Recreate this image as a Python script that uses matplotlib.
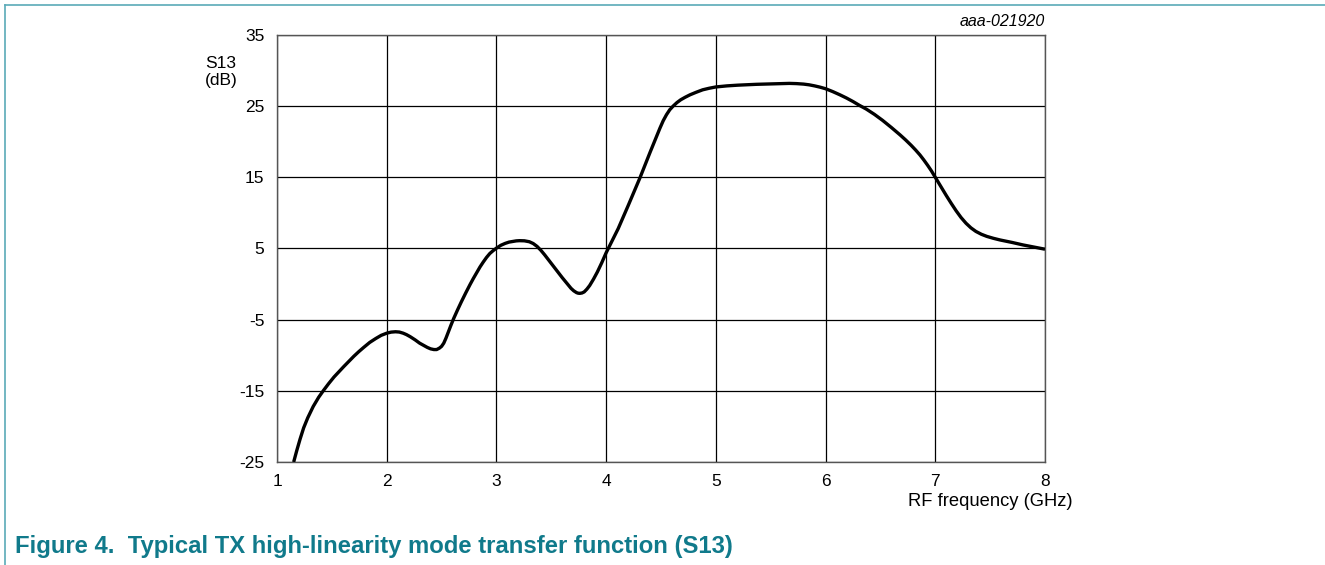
import numpy as np
import matplotlib
matplotlib.use('Agg')
import matplotlib.pyplot as plt
from matplotlib.lines import Line2D

plt.rcParams['font.family'] = ['Liberation Sans', 'DejaVu Sans']

# S13 curve (GHz, dB)
freq = [1.152, 1.18, 1.21, 1.243, 1.28, 1.33, 1.38, 1.426, 1.47,
        1.52, 1.565, 1.608, 1.655, 1.70, 1.745, 1.79, 1.845, 1.90, 1.95,
        2.0, 2.04, 2.08, 2.115, 2.15, 2.18, 2.215, 2.26, 2.30, 2.34,
        2.37, 2.40, 2.43, 2.455, 2.48, 2.50, 2.52, 2.54, 2.56, 2.585,
        2.61, 2.645, 2.68, 2.72, 2.76, 2.79, 2.82, 2.85, 2.88, 2.91,
        2.94, 2.97, 3.0, 3.04, 3.08, 3.115, 3.15, 3.18, 3.21, 3.255,
        3.30, 3.335, 3.37, 3.405, 3.44, 3.48, 3.52, 3.56, 3.60, 3.64,
        3.68, 3.705, 3.73, 3.745, 3.76, 3.78, 3.80, 3.825, 3.85, 3.885,
        3.92, 3.96, 4.0, 4.055, 4.11, 4.155, 4.20, 4.255, 4.31, 4.355,
        4.40, 4.445, 4.49, 4.52, 4.55, 4.58, 4.61, 4.645, 4.68, 4.72,
        4.765, 4.82, 4.88, 4.94, 5.0, 5.1, 5.2, 5.285, 5.37, 5.46,
        5.55, 5.61, 5.67, 5.735, 5.8, 5.85, 5.9, 5.95, 6.0, 6.065,
        6.13, 6.19, 6.25, 6.31, 6.37, 6.445, 6.52, 6.60, 6.68, 6.73,
        6.78, 6.82, 6.86, 6.895, 6.93, 6.965, 7.0, 7.05, 7.1, 7.145,
        7.19, 7.235, 7.28, 7.325, 7.37, 7.42, 7.47, 7.53, 7.59, 7.7,
        7.8, 7.9, 8.0]
s13 = [-25.0, -23.4, -21.8, -20.2, -18.8, -17.2, -15.9, -14.9, -14.0,
       -13.05, -12.3, -11.6, -10.85, -10.15, -9.5, -8.9, -8.2, -7.65, -7.2,
       -6.9, -6.75, -6.7, -6.74, -6.9, -7.1, -7.4, -7.85, -8.3, -8.65,
       -8.9, -9.1, -9.2, -9.2, -9.0, -8.75, -8.3, -7.6, -6.8, -5.8,
       -4.85, -3.65, -2.5, -1.25, -0.05, 0.8, 1.6, 2.4, 3.1, 3.75,
       4.3, 4.7, 5.05, 5.45, 5.72, 5.9, 6.0, 6.07, 6.1, 6.08,
       5.95, 5.7, 5.3, 4.75, 4.1, 3.3, 2.5, 1.7, 0.9, 0.15,
       -0.6, -0.95, -1.2, -1.28, -1.3, -1.25, -1.1, -0.7, -0.2, 0.7,
       1.7, 3.0, 4.4, 6.1, 7.8, 9.4, 11.0, 13.0, 15.0, 16.75,
       18.5, 20.2, 21.9, 22.95, 23.8, 24.5, 25.0, 25.5, 25.9, 26.25,
       26.6, 26.95, 27.3, 27.52, 27.7, 27.85, 27.95, 28.01, 28.07, 28.11,
       28.15, 28.18, 28.2, 28.17, 28.1, 28.0, 27.85, 27.67, 27.45, 27.05,
       26.6, 26.15, 25.65, 25.1, 24.6, 23.85, 23.0, 22.0, 20.95, 20.25,
       19.5, 18.85, 18.15, 17.45, 16.7, 15.9, 15.0, 13.7, 12.45, 11.35,
       10.3, 9.35, 8.55, 7.9, 7.4, 7.0, 6.7, 6.43, 6.2, 5.85,
       5.5, 5.2, 4.9]

xticks = [1, 2, 3, 4, 5, 6, 7, 8]
yticks = [-25, -15, -5, 5, 15, 25, 35]

teal = '#107a8b'
frame_col = '#5aaab8'

fig = plt.figure(figsize=(13.25, 5.65), dpi=100)
ax = fig.add_axes([277/1325, 1-462/565, 768/1325, 427/565])

ax.plot(freq, s13, '-', color='black', lw=2.4, solid_joinstyle='round',
        solid_capstyle='butt', zorder=3)

ax.set_xlim(1, 8)
ax.set_ylim(-25, 35)
ax.set_xticks(xticks)
ax.set_yticks(yticks)
ax.set_xticklabels([str(t) for t in xticks])
ax.set_yticklabels([str(t) for t in yticks])
ax.tick_params(length=0, labelsize=12.5, pad=9, colors='black')
ax.grid(True, color='black', lw=0.9)
for sp in ax.spines.values():
    sp.set_color('#555555')
    sp.set_linewidth(1.0)

fig.text(221/1325, 1-72/565, 'S13\n(dB)', ha='center', va='center',
         fontsize=12.5, linespacing=1.2)
fig.text(1073/1325, 1-502/565, 'RF frequency (GHz)', ha='right',
         va='center', fontsize=13.2)
fig.text(1045/1325, 1-22/565, 'aaa-021920', ha='right', va='center',
         fontsize=11.5, style='italic')
fig.text(15/1325, 1-547/565,
         'Figure 4.  Typical TX high-linearity mode transfer function (S13)',
         ha='left', va='center', fontsize=17.2, fontweight='bold', color=teal)

# frame lines on top and left
fig.add_artist(Line2D([5/1325, 1], [1-4.5/565, 1-4.5/565], color=frame_col,
                      lw=1.2, transform=fig.transFigure))
fig.add_artist(Line2D([5/1325, 5/1325], [0, 1-4.5/565], color=frame_col,
                      lw=1.2, transform=fig.transFigure))

fig.savefig('out.png', dpi=100)
